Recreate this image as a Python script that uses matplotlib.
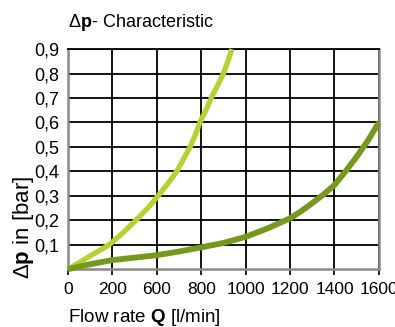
import matplotlib
matplotlib.use("Agg")
import matplotlib.pyplot as plt

# curve data: x in tick positions (0 -> "0", 1 -> "200", 2 -> "600", ...)
light_x = [0, 0.25, 0.5, 0.75, 0.93, 1.25, 1.53, 1.8, 2.03, 2.25, 2.45, 2.6, 2.75,
           2.87, 2.97, 3.12, 3.25, 3.38, 3.50, 3.6, 3.69]
light_y = [0, 0.026, 0.054, 0.08, 0.10, 0.15, 0.20, 0.25, 0.30, 0.35, 0.40, 0.45, 0.50,
           0.55, 0.60, 0.655, 0.71, 0.755, 0.80, 0.85, 0.90]

dark_x = [0, 0.5, 1, 1.5, 2, 2.5, 3, 3.5, 4, 4.5, 5, 5.25, 5.5, 5.75, 6, 6.25, 6.5, 6.75, 7]
dark_y = [0, 0.02, 0.037, 0.047, 0.057, 0.072, 0.089, 0.107, 0.132, 0.167, 0.208,
          0.237, 0.27, 0.305, 0.344, 0.40, 0.46, 0.525, 0.60]

x_labels = ["0", "200", "600", "800", "1000", "1200", "1400", "1600"]
y_values = [0.1, 0.2, 0.3, 0.4, 0.5, 0.6, 0.7, 0.8, 0.9]
y_labels = ["0,1", "0,2", "0,3", "0,4", "0,5", "0,6", "0,7", "0,8", "0,9"]

plt.rcParams["font.family"] = ["Liberation Sans", "DejaVu Sans"]
plt.rcParams["mathtext.fontset"] = "custom"
plt.rcParams["mathtext.rm"] = "Liberation Sans"
plt.rcParams["mathtext.bf"] = "Liberation Sans:bold"

narrow = ["Liberation Sans Narrow", "Liberation Sans"]

fig = plt.figure(figsize=(3.95, 3.27), dpi=100)
ax = fig.add_axes([0.172, 0.177, 0.7873, 0.673])

ax.plot(light_x, light_y, color="#b3d334", lw=3.8, solid_capstyle="butt",
        solid_joinstyle="round", clip_on=False, zorder=3)
ax.plot(dark_x, dark_y, color="#76981c", lw=4.2, solid_capstyle="butt",
        solid_joinstyle="round", clip_on=False, zorder=4)

ax.set_xlim(0, 7)
ax.set_ylim(0, 0.9)
ax.set_xticks(range(len(x_labels)))
ax.set_xticklabels(x_labels, family=narrow, fontsize=12.5)
ax.set_yticks(y_values)
ax.set_yticklabels(y_labels, family=narrow, fontsize=13)
ax.tick_params(axis="x", length=4, width=1.2, color="black", pad=5)
ax.tick_params(axis="y", length=0, pad=6)

ax.grid(True, color="black", lw=1.3)
ax.set_axisbelow(True)
for side in ["left", "bottom", "right"]:
    ax.spines[side].set_color("#8a8a8a")
    ax.spines[side].set_linewidth(1.8)
ax.spines["top"].set_color("black")
ax.spines["top"].set_linewidth(1.3)

fig.text(68 / 395, 1 - 27 / 327, r"Δ$\mathbf{p}$- Characteristic", fontsize=13, ha="left", va="baseline")
fig.text(68 / 395, 1 - 321.5 / 327, r"Flow rate $\mathbf{Q}$ [l/min]", fontsize=13.5, ha="left", va="baseline")
fig.text(24 / 395, 1 - 227 / 327, r"Δ$\mathbf{p}$ in [bar]", fontsize=16, rotation=90, ha="center", va="center")

fig.savefig("out.png", dpi=100)
